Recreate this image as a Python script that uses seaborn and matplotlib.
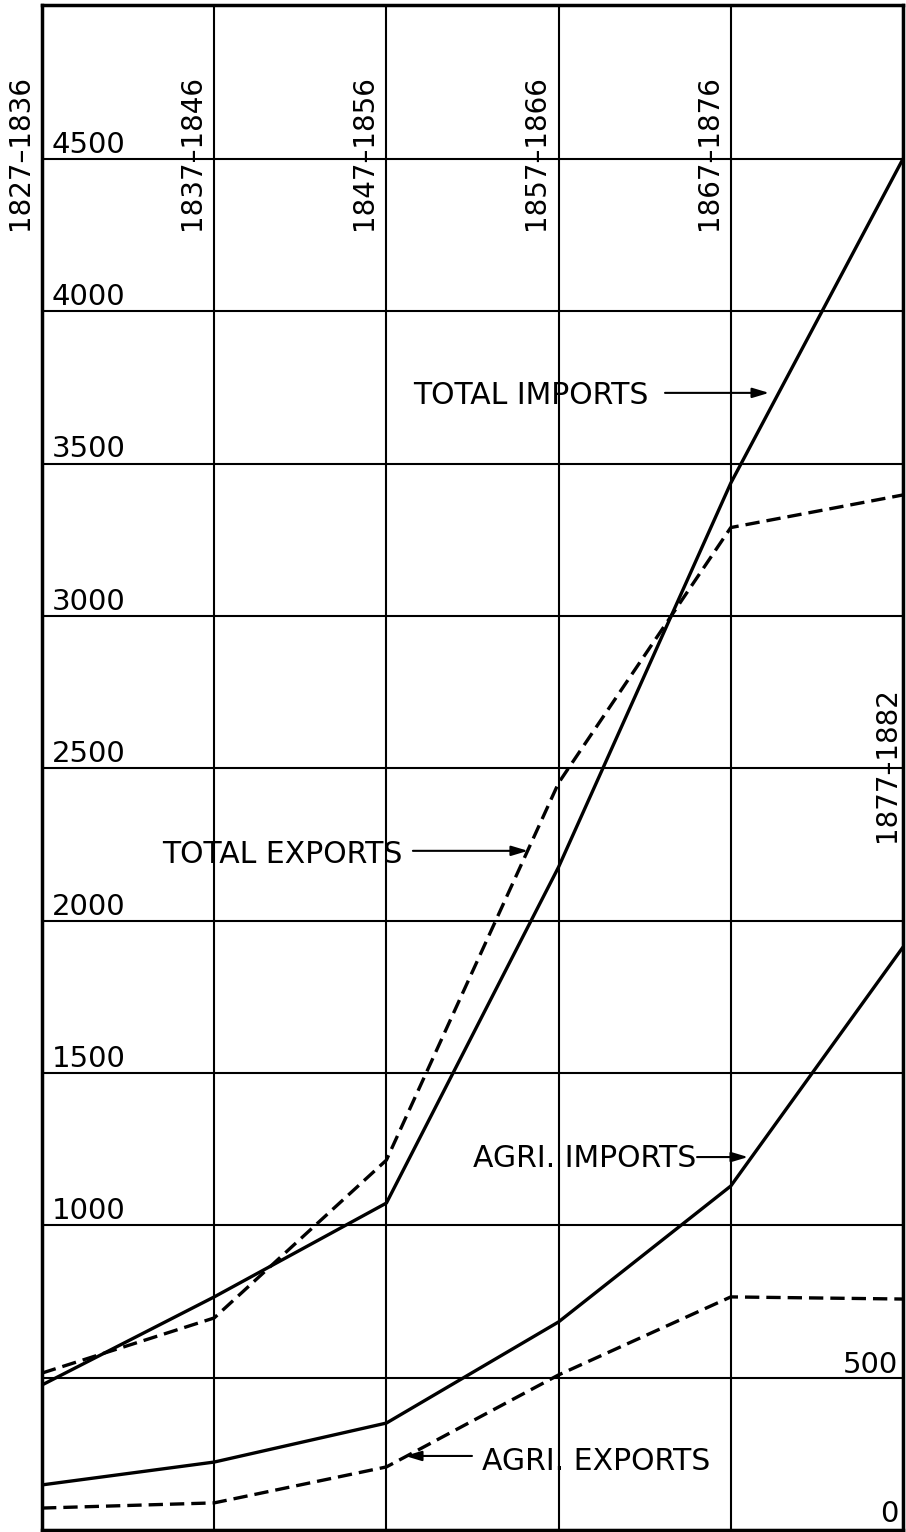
import matplotlib
matplotlib.use('Agg')
import matplotlib.pyplot as plt
import pandas as pd
import seaborn as sns

# periods along the x axis (one grid line each)
periods = ['1827–1836', '1837–1846', '1847–1856', '1857–1866', '1867–1876', '1877–1882']

# values
total_imports = [476, 765, 1073, 2176, 3436, 4500]
total_exports = [515, 696, 1214, 2452, 3290, 3397]
agri_imports = [148, 223, 351, 683, 1129, 1913]
agri_exports = [72, 89, 207, 509, 765, 758]

left_labels = [1000, 1500, 2000, 2500, 3000, 3500, 4000, 4500]
right_labels = [0, 500]

sns.set_style('white')
plt.rcParams['font.family'] = ['DejaVu Sans']
plt.rcParams['text.color'] = 'black'

series = [
    ('TOTAL IMPORTS', 'imports', total_imports),
    ('TOTAL EXPORTS', 'exports', total_exports),
    ('AGRI. IMPORTS', 'imports', agri_imports),
    ('AGRI. EXPORTS', 'exports', agri_exports),
]
rows = []
for name, flow, vals in series:
    for i, v in enumerate(vals):
        rows.append({'pos': i, 'value': v, 'series': name, 'flow': flow})
df = pd.DataFrame(rows)

fig = plt.figure(figsize=(9.06, 15.32), dpi=100)
ax = fig.add_axes([42 / 906, 2 / 1532, 861 / 906, 1525 / 1532])

sns.lineplot(data=df, x='pos', y='value', hue='series', style='flow',
             palette={s[0]: 'black' for s in series},
             dashes={'imports': '', 'exports': (4.3, 2.1)},
             estimator=None, linewidth=2.4, legend=False, ax=ax)

ax.set_xlim(0, len(periods) - 1)
ax.set_ylim(0, 5005)
ax.set_xticks(range(len(periods)))
ax.set_yticks(range(0, 5000, 500))
ax.grid(True, color='black', linewidth=1.5)
ax.set_axisbelow(True)
ax.tick_params(length=0, labelbottom=False, labelleft=False)
ax.set_xlabel('')
ax.set_ylabel('')
for sp in ax.spines.values():
    sp.set_color('black')
    sp.set_linewidth(2.5)

# period labels, rotated, just left of each grid line
for i, p in enumerate(periods):
    if i == len(periods) - 1:
        ax.annotate(p, xy=(i, 2511), xytext=(-11.5, 0), textcoords='offset points',
                    rotation=90, ha='center', va='center', fontsize=20)
    else:
        ax.annotate(p, xy=(i, 4520), xytext=(-16, 0), textcoords='offset points',
                    rotation=90, ha='center', va='center', fontsize=20,
                    annotation_clip=False)

# value labels
for v in left_labels:
    ax.text(0.058, v + 20, str(v), ha='left', va='baseline', fontsize=21)
for v in right_labels:
    ax.text(4.971, v + 15 + (11 if v == 0 else 0), str(v), ha='right', va='baseline', fontsize=21)

# series labels with arrows
notes = [
    ('TOTAL IMPORTS', 2.154, 3696, 3.618, 4.222, 3732),
    ('TOTAL EXPORTS', 0.697, 2189, 2.154, 2.822, 2229),
    ('AGRI. IMPORTS', 2.503, 1191, 3.804, 4.100, 1224),
    ('AGRI. EXPORTS', 2.555, 197, 2.497, 2.108, 243),
]
for text, tx, ty, ax0, ax1, ay in notes:
    ax.text(tx, ty, text, ha='left', va='baseline', fontsize=21.5)
    ax.annotate('', xy=(ax1, ay), xytext=(ax0, ay),
                arrowprops=dict(arrowstyle='-|>,head_length=1.0,head_width=0.3',
                                color='black', lw=1.5, shrinkA=0, shrinkB=0))

fig.savefig('out.png', dpi=100)
